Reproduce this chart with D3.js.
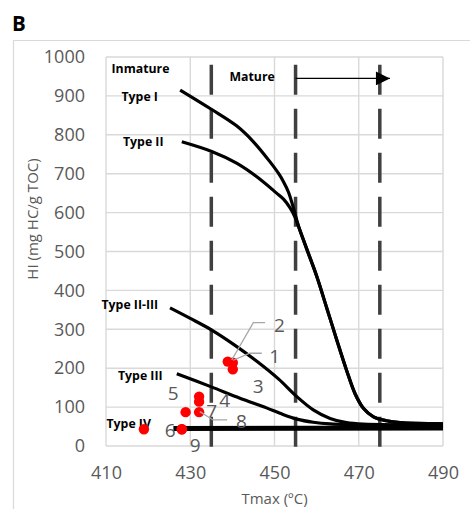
<!DOCTYPE html>
<html>
<head>
<meta charset="utf-8">
<script src="https://cdn.jsdelivr.net/npm/d3@7"></script>
<style>
  html, body { margin: 0; padding: 0; background: #fff; }
  svg { display: block; }
</style>
</head>
<body>
<svg id="chart" width="470" height="509"></svg>
<script>
// ---------- DATA ----------
const xTicks = [410, 430, 450, 470, 490];
const yTicks = [0, 100, 200, 300, 400, 500, 600, 700, 800, 900, 1000];

const typeI   = [[427.6,915],[435.1,865],[441,823],[445,782],[448.9,731],[451,700],[452.1,680],[453.3,653],[454.5,612],[455.7,565],[457.6,508],[460,437],[462.4,355],[464.8,272],[467.1,195],[469.1,135],[471.1,97],[473.5,75],[476.6,65],[479.8,60],[490,57]];
const typeII  = [[428,782],[435.1,757],[441,727],[445.8,692],[450.5,650],[452.2,634],[453.7,612],[454.8,590],[455.7,565],[457.6,508],[460,437],[462.4,355],[464.8,272],[467.1,195],[469.1,135],[471.1,97],[473.5,75],[476.6,65],[479.8,60],[490,57]];
const typeIIIII = [[425.2,355],[430,328],[435.1,298],[440.2,262],[445.8,218],[451,172],[455.3,127],[459.2,93],[463.2,71],[467.1,60],[471.1,56],[490,54]];
const typeIII = [[426.8,186],[435,152],[441.8,123],[448.1,98],[451.3,84],[455.3,69],[459.2,61],[463.2,57],[490,52]];
const typeIV  = [[426,45],[490,46]];

const curveNames = ["Type I", "Type II", "Type II-III", "Type III", "Type IV"];

const sampleIds = ["1","2","3","4","5","6","7","8","9",""];
const sampleTmax = [440.1, 438.9, 440.1, 432.1, 432.1, 428.0, 428.9, 432.1, 428.0, 419.0];
const sampleHI   = [214, 217, 197, 114, 127, 43, 87, 87, 43, 43];

const maturityLimits = [435, 455, 475];
const maturityLineHI = [980, -12];

const arrowTmax = [455, 477.4];
const arrowHI = 945;

// ---------- LAYOUT ----------
const svg = d3.select("#chart");
const x = d3.scaleLinear().domain([410, 490]).range([106, 443]);
const y = d3.scaleLinear().domain([0, 1000]).range([446, 57]);

const grey = "#595959";
const tickFont = "'Open Sans', sans-serif";

// outer chart border
svg.append("path")
  .attr("d", "M13.5,520 L13.5,40.5 L480,40.5")
  .attr("fill", "none").attr("stroke", "#d9d9d9").attr("stroke-width", 1.2);

// panel letter
svg.append("text").attr("x", 12).attr("y", 30.5)
  .attr("font-family", tickFont).attr("font-weight", 700).attr("font-size", 20.5)
  .attr("fill", "#000").text("B");

// grid
const grid = svg.append("g").attr("stroke", "#d9d9d9").attr("stroke-width", 1.4);
grid.selectAll("line.h").data(yTicks).join("line")
  .attr("x1", x(410)).attr("x2", x(490))
  .attr("y1", d => y(d)).attr("y2", d => y(d));
grid.selectAll("line.v").data(xTicks).join("line")
  .attr("y1", y(0)).attr("y2", y(1000))
  .attr("x1", d => x(d)).attr("x2", d => x(d));

// axes
const yAxis = svg.append("g").attr("transform", `translate(${x(410)},0)`)
  .call(d3.axisLeft(y).tickValues(yTicks).tickFormat(d3.format("d")).tickSize(0).tickPadding(21));
const xAxis = svg.append("g").attr("transform", `translate(0,${y(0)})`)
  .call(d3.axisBottom(x).tickValues(xTicks).tickFormat(d3.format("d")).tickSize(0).tickPadding(20));
[xAxis, yAxis].forEach(a => {
  a.select(".domain").remove();
  a.selectAll("text").attr("font-family", tickFont).attr("font-size", 18)
    .attr("fill", grey);
});

// axis titles
svg.append("text").attr("x", 274.5).attr("y", 504)
  .attr("text-anchor", "middle").attr("font-family", tickFont).attr("font-size", 15)
  .attr("fill", grey).text("Tmax (ºC)");
svg.append("text")
  .attr("transform", "translate(38,219) rotate(-90)")
  .attr("text-anchor", "middle").attr("font-family", tickFont).attr("font-size", 15)
  .attr("fill", grey).text("HI (mg HC/g TOC)");

// maturity dashed lines
svg.append("g").selectAll("line").data(maturityLimits).join("line")
  .attr("x1", d => x(d)).attr("x2", d => x(d))
  .attr("y1", y(maturityLineHI[0])).attr("y2", y(maturityLineHI[1]))
  .attr("stroke", "#404040").attr("stroke-width", 3.5)
  .attr("stroke-dasharray", "30,14");

// kerogen type curves
const line = d3.line().x(d => x(d[0])).y(d => y(d[1])).curve(d3.curveCatmullRom.alpha(0.5));
const curves = [typeI, typeII, typeIIIII, typeIII];
svg.append("g").selectAll("path").data(curves).join("path")
  .attr("d", line).attr("fill", "none").attr("stroke", "#000")
  .attr("stroke-width", 3.2).attr("stroke-linejoin", "round");
svg.append("path").attr("d", line(typeIV)).attr("fill", "none")
  .attr("stroke", "#000").attr("stroke-width", 5);

// arrow
svg.append("defs").append("marker").attr("id", "arr")
  .attr("viewBox", "0 0 10 10").attr("refX", 10).attr("refY", 5)
  .attr("markerWidth", 17).attr("markerHeight", 14).attr("markerUnits", "userSpaceOnUse")
  .attr("orient", "auto")
  .append("path").attr("d", "M0,0 L10,5 L0,10 Z").attr("fill", "#000");
svg.append("line")
  .attr("x1", x(arrowTmax[0])).attr("x2", x(arrowTmax[1]))
  .attr("y1", y(arrowHI)).attr("y2", y(arrowHI))
  .attr("stroke", "#000").attr("stroke-width", 1.3).attr("marker-end", "url(#arr)");

// text annotations (bold)
const typeLabelPos = [[121.5, 96.7], [123, 142], [101.5, 305], [118, 375.7], [106.5, 423.3]];
const boldText = (tx, ty, s) => svg.append("text").attr("x", tx).attr("y", ty)
  .attr("dy", "0.35em").attr("font-family", tickFont).attr("font-weight", 700)
  .attr("font-size", 12.3).attr("fill", "#000").text(s);
curveNames.forEach((n, i) => boldText(typeLabelPos[i][0], typeLabelPos[i][1], n));
boldText(111.5, 68.3, "Inmature");
boldText(229.5, 76.7, "Mature");

// samples
const samples = sampleIds.map((id, i) => ({ id, t: sampleTmax[i], hi: sampleHI[i] }));
const labelLayout = {
  "1": { dx: 42, dy: -7, leader: [[0.5,-2.5],[17,-9.5],[29,-9.5]] },
  "2": { dx: 51.6, dy: -36.6, leader: [[4,-1.6],[25.6,-38.9],[37.3,-38.9]] },
  "3": { dx: 25.5, dy: 16.6 },
  "4": { dx: 25.7, dy: -1.7 },
  "5": { dx: -26, dy: -3.3 },
  "6": { dx: -11.6, dy: 0.7 },
  "7": { dx: 26, dy: -0.5 },
  "8": { dx: 42.4, dy: 9.5, leader: [[0.7,-0.5],[14,7.8],[28,7.8]] },
  "9": { dx: 13.4, dy: 15.7 }
};

svg.append("g").selectAll("circle").data(samples).join("circle")
  .attr("cx", d => x(d.t)).attr("cy", d => y(d.hi)).attr("r", 5.2)
  .attr("fill", "#ff0000");

const lab = svg.append("g");
samples.filter(d => d.id && labelLayout[d.id]).forEach(d => {
  const L = labelLayout[d.id];
  const px = x(d.t), py = y(d.hi);
  if (L.leader) {
    lab.append("path")
      .attr("d", d3.line()(L.leader.map(p => [px + p[0], py + p[1]])))
      .attr("fill", "none").attr("stroke", "#a6a6a6").attr("stroke-width", 1.3);
  }
  lab.append("text").attr("x", px + L.dx).attr("y", py + L.dy).attr("dy", "0.36em")
    .attr("text-anchor", "middle").attr("font-family", tickFont).attr("font-size", 19)
    .attr("fill", grey).text(d.id);
});
</script>
</body>
</html>
